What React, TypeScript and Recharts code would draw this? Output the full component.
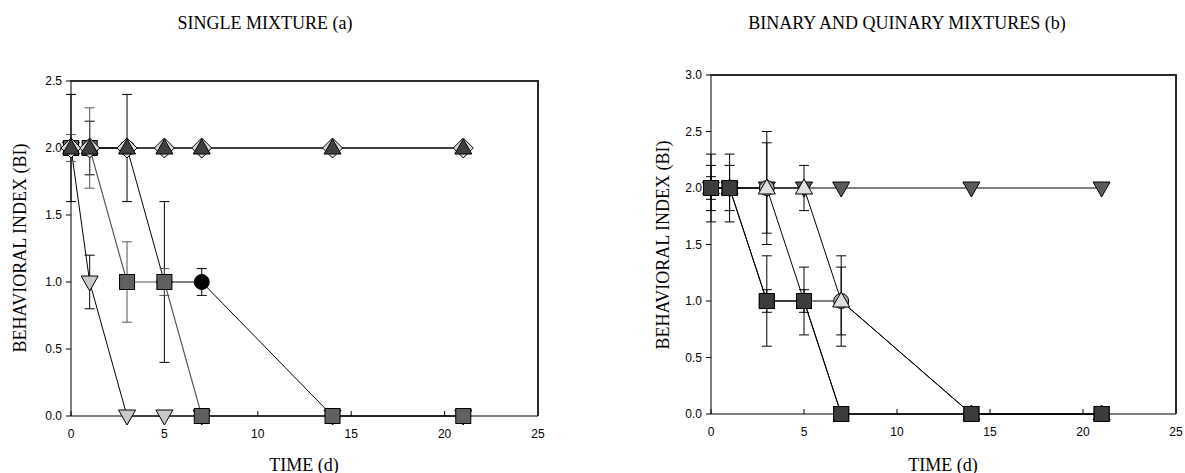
import React from 'react';
import { LineChart, Line, XAxis, YAxis, ErrorBar } from 'recharts';

// sampling days (d)
const days = [0, 1, 3, 5, 7, 14, 21];

// (a) single mixture — behavioural index per series
const aDiamond = [2, 2, 2, 2, 2, 2, 2];
const aTriUp = [2, 2, 2, 2, 2, 2, 2];
const aTriDown = [2, 1, 0, 0, 0, 0, 0];
const aCircle = [2, 2, 2, 1, 1, 0, 0];
const aSquare = [2, 2, 1, 1, 0, 0, 0];
// (a) standard deviations
const aTriDownErr = [0, 0.2, 0, 0, 0, 0, 0];
const aCircleErr = [0.4, 0.2, 0.4, 0.6, 0.1, 0, 0];
const aSquareErr = [0.1, 0.3, 0.3, 0.1, 0, 0, 0];

// (b) binary and quinary mixtures
const bTriDown = [2, 2, 2, 2, 2, 2, 2];
const bCircle = [2, 2, 2, 1, 1, 0, 0];
const bTriUp = [2, 2, 2, 2, 1, 0, 0];
const bSquareA = [2, 2, 1, 1, 0, 0, 0];
const bSquareB = [2, 2, 1, 1, 0, 0, 0];
const bCircleErr = [0.2, 0.2, 0.4, 0.3, 0.3, 0, 0];
const bTriUpErr = [0.3, 0.3, 0.5, 0.2, 0.4, 0, 0];
const bSquareAErr = [0.1, 0, 0.4, 0.1, 0, 0, 0];
const bSquareBErr = [0, 0, 0.1, 0, 0, 0, 0];

const xTicks = [0, 5, 10, 15, 20, 25];
const aYTicks = [0, 0.5, 1, 1.5, 2, 2.5];
const bYTicks = [0, 0.5, 1, 1.5, 2, 2.5, 3];

const dataA = days.map((day, i) => ({
  day,
  diamond: aDiamond[i],
  triUp: aTriUp[i],
  triDown: aTriDown[i],
  triDownErr: aTriDownErr[i],
  circle: aCircle[i],
  circleErr: aCircleErr[i],
  square: aSquare[i],
  squareErr: aSquareErr[i],
}));

const dataB = days.map((day, i) => ({
  day,
  triDown: bTriDown[i],
  circle: bCircle[i],
  circleErr: bCircleErr[i],
  triUp: bTriUp[i],
  triUpErr: bTriUpErr[i],
  squareA: bSquareA[i],
  squareAErr: bSquareAErr[i],
  squareB: bSquareB[i],
  squareBErr: bSquareBErr[i],
}));

const SANS = '"Liberation Sans", Arial, sans-serif';
const SERIF = '"Liberation Serif", "Times New Roman", serif';

type Shape = 'square' | 'circle' | 'triUp' | 'triDown' | 'diamond';

function makeDot(shape: Shape, fill: string) {
  return (props: any) => {
    const { cx, cy, index } = props;
    if (cx == null || cy == null) return <g key={index} />;
    const common = { fill, stroke: '#000', strokeWidth: 1 };
    if (shape === 'square') return <rect key={index} x={cx - 7.5} y={cy - 7.5} width={15} height={15} {...common} />;
    if (shape === 'circle') return <circle key={index} cx={cx} cy={cy} r={7.5} {...common} />;
    if (shape === 'triUp')
      return <polygon key={index} points={`${cx},${cy - 9} ${cx - 8.5},${cy + 6} ${cx + 8.5},${cy + 6}`} {...common} />;
    if (shape === 'triDown')
      return <polygon key={index} points={`${cx},${cy + 9} ${cx - 8.5},${cy - 6} ${cx + 8.5},${cy - 6}`} {...common} />;
    return <polygon key={index} points={`${cx},${cy - 10} ${cx + 10},${cy} ${cx},${cy + 10} ${cx - 10},${cy}`} {...common} />;
  };
}

const tickStyle = { fontSize: 12, fontFamily: SANS, fill: '#000' };

const serifText: React.CSSProperties = {
  position: 'absolute',
  fontFamily: SERIF,
  fontSize: 18,
  color: '#000',
  whiteSpace: 'nowrap',
  transform: 'translate(-50%, -50%)',
  zIndex: 2,
};

// top/right edges of the plot box (the axes draw the left/bottom ones)
const frame: React.CSSProperties = {
  position: 'absolute',
  boxSizing: 'border-box',
  borderTop: '2px solid #2a2a2a',
  borderRight: '2px solid #2a2a2a',
  pointerEvents: 'none',
  zIndex: 5,
};

export default function App() {
  return (
    <div style={{ position: 'relative', width: 1185, height: 473, background: '#fff', overflow: 'hidden' }}>
      <style>{'html,body{margin:0;padding:0;overflow:hidden;}'}</style>
      <div style={{ position: 'absolute', left: 0, top: 0 }}>
        <LineChart width={560} height={473} data={dataA} margin={{ top: 81, right: 22, bottom: 27, left: 11 }}>
          <XAxis dataKey="day" type="number" domain={[0, 25]} ticks={xTicks} height={30} tickSize={-5} tickMargin={18} tick={tickStyle} stroke="#000" interval={0} />
          <YAxis type="number" domain={[0, 2.5]} ticks={aYTicks} width={60} tickSize={5} tickMargin={4} tick={tickStyle} tickFormatter={(v: number) => v.toFixed(1)} stroke="#000" interval={0} />
          <Line dataKey="triDown" type="linear" stroke="#000" strokeWidth={1} dot={makeDot('triDown', '#c8c8c8')} activeDot={false} isAnimationActive={false}>
            <ErrorBar dataKey="triDownErr" width={5} stroke="#000" strokeWidth={1} direction="y" />
          </Line>
          <Line dataKey="circle" type="linear" stroke="#000" strokeWidth={1} dot={makeDot('circle', '#000')} activeDot={false} isAnimationActive={false}>
            <ErrorBar dataKey="circleErr" width={5} stroke="#000" strokeWidth={1} direction="y" />
          </Line>
          <Line dataKey="square" type="linear" stroke="#555" strokeWidth={1.2} dot={makeDot('square', '#606060')} activeDot={false} isAnimationActive={false}>
            <ErrorBar dataKey="squareErr" width={5} stroke="#555" strokeWidth={1} direction="y" />
          </Line>
          <Line dataKey="diamond" type="linear" stroke="#000" strokeWidth={1} dot={makeDot('diamond', '#d8d8d8')} activeDot={false} isAnimationActive={false} />
          <Line dataKey="triUp" type="linear" stroke="#000" strokeWidth={1} dot={makeDot('triUp', '#404040')} activeDot={false} isAnimationActive={false} />
        </LineChart>
      </div>
      <div style={{ ...frame, left: 70, top: 80, width: 469, height: 336 }} />

      <div style={{ position: 'absolute', left: 600, top: 0 }}>
        <LineChart width={585} height={473} data={dataB} margin={{ top: 75, right: 9, bottom: 29, left: 51 }}>
          <XAxis dataKey="day" type="number" domain={[0, 25]} ticks={xTicks} height={30} tickSize={-5} tickMargin={18} tick={tickStyle} stroke="#000" interval={0} />
          <YAxis type="number" domain={[0, 3]} ticks={bYTicks} width={60} tickSize={5} tickMargin={4} tick={tickStyle} tickFormatter={(v: number) => v.toFixed(1)} stroke="#000" interval={0} />
          <Line dataKey="triDown" type="linear" stroke="#000" strokeWidth={1} dot={makeDot('triDown', '#5a5a5a')} activeDot={false} isAnimationActive={false} />
          <Line dataKey="circle" type="linear" stroke="#000" strokeWidth={1} dot={makeDot('circle', '#a8a8a8')} activeDot={false} isAnimationActive={false}>
            <ErrorBar dataKey="circleErr" width={5} stroke="#000" strokeWidth={1} direction="y" />
          </Line>
          <Line dataKey="triUp" type="linear" stroke="#000" strokeWidth={1} dot={makeDot('triUp', '#e0e0e0')} activeDot={false} isAnimationActive={false}>
            <ErrorBar dataKey="triUpErr" width={5} stroke="#000" strokeWidth={1} direction="y" />
          </Line>
          <Line dataKey="squareB" type="linear" stroke="#000" strokeWidth={1} dot={makeDot('square', '#333')} activeDot={false} isAnimationActive={false}>
            <ErrorBar dataKey="squareBErr" width={5} stroke="#000" strokeWidth={1} direction="y" />
          </Line>
          <Line dataKey="squareA" type="linear" stroke="#000" strokeWidth={1} dot={makeDot('square', '#3c3c3c')} activeDot={false} isAnimationActive={false}>
            <ErrorBar dataKey="squareAErr" width={5} stroke="#000" strokeWidth={1} direction="y" />
          </Line>
        </LineChart>
      </div>
      <div style={{ ...frame, left: 710, top: 74, width: 467, height: 340 }} />

      <div style={{ ...serifText, left: 265, top: 23 }}>SINGLE MIXTURE (a)</div>
      <div style={{ ...serifText, left: 907, top: 23 }}>BINARY AND QUINARY MIXTURES (b)</div>
      <div style={{ ...serifText, left: 304, top: 465 }}>TIME (d)</div>
      <div style={{ ...serifText, left: 943, top: 465 }}>TIME (d)</div>
      <div style={{ ...serifText, left: 20, top: 248, transform: 'translate(-50%, -50%) rotate(-90deg)' }}>BEHAVIORAL INDEX (BI)</div>
      <div style={{ ...serifText, left: 663, top: 245, transform: 'translate(-50%, -50%) rotate(-90deg)' }}>BEHAVIORAL INDEX (BI)</div>
    </div>
  );
}
